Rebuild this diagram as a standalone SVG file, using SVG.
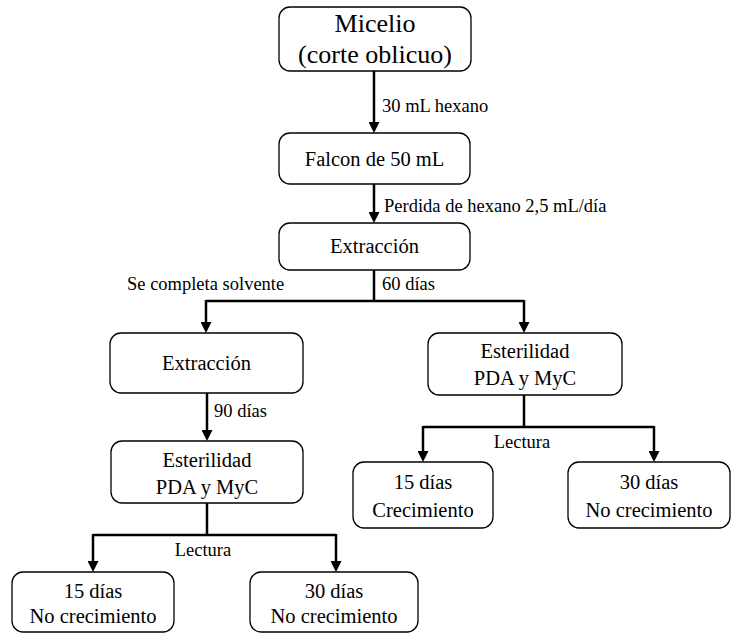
<svg xmlns="http://www.w3.org/2000/svg" width="732" height="633" viewBox="0 0 732 633">
<style>
.box{fill:#fff;stroke:#000;stroke-width:1.3}
text{fill:#000;font-family:"Liberation Serif","Times New Roman",serif}
.t{font-size:20.5px;text-anchor:middle}
.big{font-size:26px}
.lbl{font-size:18.5px}
.c{fill:none;stroke:#000;stroke-width:2.5}
</style>
<defs>
<marker id="ah" markerUnits="userSpaceOnUse" markerWidth="11" markerHeight="11" refX="0" refY="5.5" orient="auto">
<path d="M0,0 L11,5.5 L0,11 z" fill="#000"/>
</marker>
</defs>
<rect width="732" height="633" fill="#fff"/>
<g id="connectors">
<path class="c" d="M374,71 V122" marker-end="url(#ah)"/>
<path class="c" d="M374,184 V212" marker-end="url(#ah)"/>
<path class="c" d="M374,270 V301 M206,301 H524"/>
<path class="c" d="M206,300 V322" marker-end="url(#ah)"/>
<path class="c" d="M524,300 V322" marker-end="url(#ah)"/>
<path class="c" d="M207,393 V430" marker-end="url(#ah)"/>
<path class="c" d="M207,503 V535 M93,535 H336"/>
<path class="c" d="M93,534 V561" marker-end="url(#ah)"/>
<path class="c" d="M336,534 V561" marker-end="url(#ah)"/>
<path class="c" d="M524,395 V427 M423,427 H654"/>
<path class="c" d="M423,426 V451" marker-end="url(#ah)"/>
<path class="c" d="M654,426 V451" marker-end="url(#ah)"/>
<text class="lbl" x="382" y="112">30 mL hexano</text>
<text class="lbl" x="384" y="212">Perdida de hexano 2,5 mL/día</text>
<text class="lbl" x="127" y="290">Se completa solvente</text>
<text class="lbl" x="382" y="290">60 días</text>
<text class="lbl" x="214" y="417">90 días</text>
<text class="lbl" x="203" y="556" text-anchor="middle">Lectura</text>
<text class="lbl" x="522" y="448" text-anchor="middle">Lectura</text>
</g>
<g id="n1"><rect class="box" x="279" y="7" width="192" height="64" rx="11"/>
<text class="t big" x="375" y="32">Micelio</text>
<text class="t big" x="375" y="63">(corte oblicuo)</text></g>
<g id="n2"><rect class="box" x="279" y="133" width="191" height="51" rx="11"/>
<text class="t" x="374.5" y="166">Falcon de 50 mL</text></g>
<g id="n3"><rect class="box" x="279" y="223" width="191" height="47" rx="11"/>
<text class="t" x="374.5" y="253">Extracción</text></g>
<g id="n4"><rect class="box" x="110" y="333" width="193" height="60" rx="11"/>
<text class="t" x="206.5" y="370">Extracción</text></g>
<g id="n5"><rect class="box" x="111" y="441" width="192" height="62" rx="11"/>
<text class="t" x="207" y="467">Esterilidad</text>
<text class="t" x="207" y="494">PDA y MyC</text></g>
<g id="n6"><rect class="box" x="428" y="333" width="194" height="62" rx="11"/>
<text class="t" x="525" y="358">Esterilidad</text>
<text class="t" x="525" y="385">PDA y MyC</text></g>
<g id="n7"><rect class="box" x="12" y="572" width="162" height="60" rx="11"/>
<text class="t" x="93" y="598">15 días</text>
<text class="t" x="93" y="623">No crecimiento</text></g>
<g id="n8"><rect class="box" x="250" y="572" width="168" height="60" rx="11"/>
<text class="t" x="334" y="598">30 días</text>
<text class="t" x="334" y="623">No crecimiento</text></g>
<g id="n9"><rect class="box" x="353" y="462" width="140" height="66" rx="11"/>
<text class="t" x="423" y="489">15 días</text>
<text class="t" x="423" y="517">Crecimiento</text></g>
<g id="n10"><rect class="box" x="568" y="462" width="162" height="66" rx="11"/>
<text class="t" x="649" y="489">30 días</text>
<text class="t" x="649" y="517">No crecimiento</text></g>
</svg>
